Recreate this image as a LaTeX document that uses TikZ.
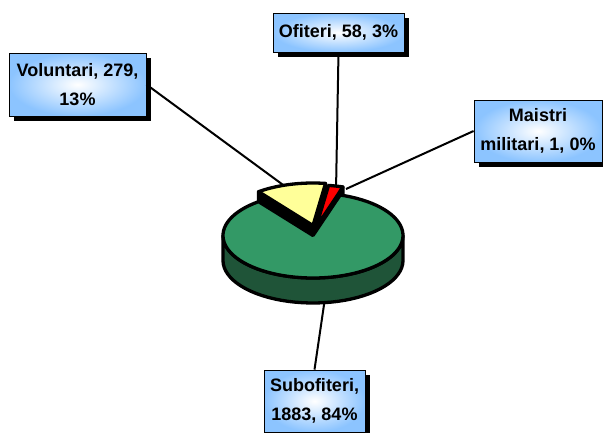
\documentclass[tikz,border=0pt]{standalone}
\usepackage{fontspec}
\setmainfont{Liberation Sans}
\usetikzlibrary{shadows}

\definecolor{greentop}{RGB}{51,153,102}
\definecolor{greenside}{RGB}{31,84,56}
\definecolor{sliceyellow}{RGB}{255,255,153}
\definecolor{lblblue}{RGB}{140,196,255}

\begin{document}
\begin{tikzpicture}[x=1pt, y=-1pt,
    lbl/.style={draw=black, line width=0.8pt, inner color=white, outer color=lblblue,
        align=center, inner sep=0pt, font=\bfseries\fontsize{18}{29}\selectfont,
        general shadow={fill=black, shadow xshift=5pt, shadow yshift=-5pt}},
    conn/.style={black, line width=2pt},
    rim/.style={draw=black, line width=3.3pt, line join=round}]

\useasboundingbox (0,0) rectangle (603,432);

% Label boxes
\node[lbl, minimum width=131pt, minimum height=39pt] (ofi) at (338.5,32.5) {Ofiteri, 58, 3\%};
\node[lbl, minimum width=137pt, minimum height=63pt] (vol) at (77.5,84.5) {Voluntari, 279,\\13\%};
\node[lbl, minimum width=128pt, minimum height=62pt] (mai) at (538,131) {Maistri\\militari, 1, 0\%};
\node[lbl, minimum width=101pt, minimum height=62pt] (sub) at (314.5,401) {Subofiteri,\\1883, 84\%};

% Free ends of the connectors (under the pie)
\coordinate (pVol) at (290,190);
\coordinate (pOfi) at (336,191);
\coordinate (pMai) at (346,189);
\coordinate (pSub) at (325,298);

\draw[conn] (vol.east) -- (pVol);
\draw[conn] (ofi.south) -- (pOfi);
\draw[conn] (mai.west) -- (pMai);
\draw[conn] (sub.north) -- (pSub);

% Pie
\begin{scope}
    \def\cx{313}
    \def\cy{235.5}
    \def\rx{90}
    \def\ry{42.5}
    \def\pdep{25}

    % Voluntari slice, cut faces (pulled out)
    \begin{scope}[shift={(0,-10)}]
        \filldraw[rim, fill=black] (\cx,\cy) -- ({\cx+\rx*sin(322.8)},{\cy-\ry*cos(322.8)})
            -- ++(0,\pdep) -- (\cx,\cy+\pdep) -- cycle;
        \filldraw[rim, fill=black] (\cx,\cy) -- ({\cx+\rx*sin(368)},{\cy-\ry*cos(368)})
            -- ++(0,\pdep) -- (\cx,\cy+\pdep) -- cycle;
    \end{scope}

    % Ofiteri slice, cut faces (pulled out)
    \begin{scope}[shift={(3,-8)}]
        \filldraw[rim, fill=black] (\cx,\cy) -- ({\cx+\rx*sin(8)},{\cy-\ry*cos(8)})
            -- ++(0,\pdep) -- (\cx,\cy+\pdep) -- cycle;
        \filldraw[rim, fill=black] (\cx,\cy) -- ({\cx+\rx*sin(17.4)},{\cy-\ry*cos(17.4)})
            -- ++(0,\pdep) -- (\cx,\cy+\pdep) -- cycle;
    \end{scope}

    % Subofiteri slice: side and top
    \filldraw[rim, fill=greenside]
        plot[domain=90:270, samples=40, variable=\t] ({\cx+\rx*sin(\t)},{\cy-\ry*cos(\t)})
        -- plot[domain=270:90, samples=40, variable=\t] ({\cx+\rx*sin(\t)},{\cy+\pdep-\ry*cos(\t)})
        -- cycle;
    \filldraw[rim, fill=greentop] (\cx,\cy)
        -- plot[domain=17.6:322.8, samples=80, variable=\t] ({\cx+\rx*sin(\t)},{\cy-\ry*cos(\t)})
        -- cycle;

    % Voluntari slice, top
    \begin{scope}[shift={(0,-10)}]
        \filldraw[rim, fill=sliceyellow] (\cx,\cy)
            -- plot[domain=322.8:368, samples=20, variable=\t] ({\cx+\rx*sin(\t)},{\cy-\ry*cos(\t)})
            -- cycle;
    \end{scope}

    % Ofiteri slice, top
    \begin{scope}[shift={(3,-8)}]
        \filldraw[rim, fill=red] (\cx,\cy)
            -- plot[domain=8:17.4, samples=8, variable=\t] ({\cx+\rx*sin(\t)},{\cy-\ry*cos(\t)})
            -- cycle;
    \end{scope}
\end{scope}

\end{tikzpicture}
\end{document}
